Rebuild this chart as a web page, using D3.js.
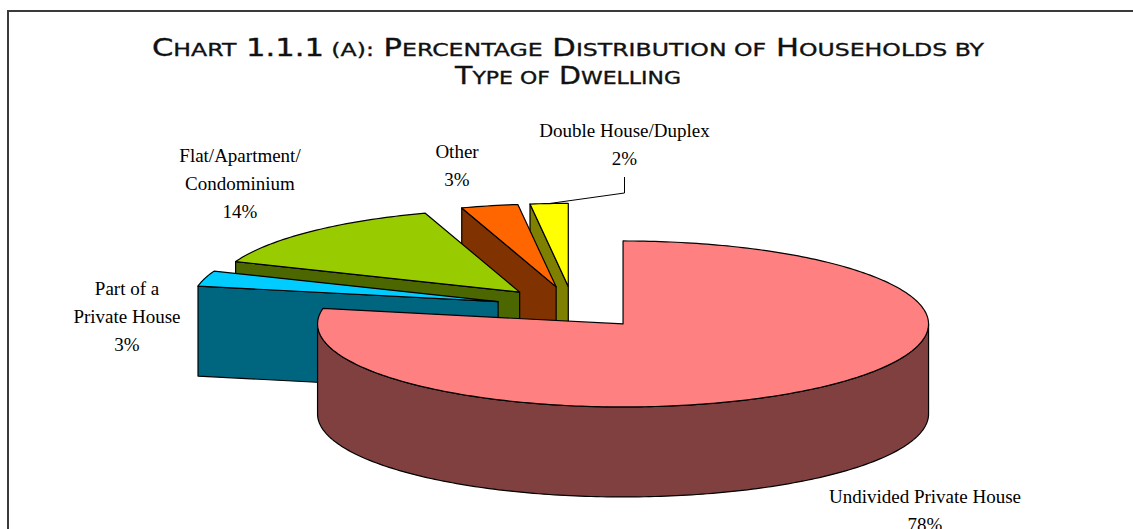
<!DOCTYPE html>
<html>
<head>
<meta charset="utf-8">
<script src="https://cdn.jsdelivr.net/npm/d3@7"></script>
<style>
  body { margin: 0; background: #fff; }
  svg { display: block; }
</style>
</head>
<body>
<div id="chart"></div>
<script>
// data (slices go clockwise from 12 o'clock)
var categories = ["Undivided Private House", "Part of a Private House", "Flat/Apartment/Condominium", "Other", "Double House/Duplex"];
var values = [78, 3, 14, 3, 2];
var labelLines = [["Undivided Private House"], ["Part of a", "Private House"], ["Flat/Apartment/", "Condominium"], ["Other"], ["Double House/Duplex"]];
var titleLines = ["Chart 1.1.1 (a): Percentage Distribution of Households by", "Type of Dwelling"];

var topColors = ["#FF8080", "#00CCFF", "#99CC00", "#FF6600", "#FFFF00"];
var sideColors = ["#804040", "#006680", "#4C6600", "#803300", "#808000"];

var width = 1133, height = 529;

var svg = d3.select("#chart").append("svg")
    .attr("width", width)
    .attr("height", height);

// frame (right and bottom edges run off the page)
svg.append("rect")
    .attr("x", 8).attr("y", 11)
    .attr("width", width + 20).attr("height", height + 20)
    .attr("fill", "none")
    .attr("stroke", "#3a3a3a")
    .attr("stroke-width", 2);

// title, faked small caps: first letter of a word big, the rest smaller capitals
var title = svg.selectAll("text.title")
    .data(titleLines)
    .enter().append("text")
    .attr("class", "title")
    .attr("x", 568)
    .attr("y", function (d, i) { return 56 + i * 28; })
    .attr("text-anchor", "middle")
    .attr("textLength", function (d, i) { return i == 0 ? 832 : 226; })
    .attr("lengthAdjust", "spacingAndGlyphs")
    .style("font-family", "'DejaVu Sans', sans-serif")
    .style("fill", "#111")
    .style("stroke", "#111")
    .style("stroke-width", 0.35);

title.each(function (d) {
    var el = d3.select(this);
    var parts = [];
    d.split(" ").forEach(function (w, wi) {
        var head = w.charAt(0), rest = w.slice(1);
        var big = head.toUpperCase() == head && /[A-Z0-9(]/.test(head);
        if (head == "(") { big = false; }
        parts.push({t: (wi > 0 ? " " : "") + head.toUpperCase(), big: big});
        if (rest) parts.push({t: rest.toUpperCase(), big: /^[0-9.]+$/.test(rest)});
    });
    el.selectAll("tspan")
        .data(parts)
        .enter().append("tspan")
        .style("font-size", function (p) { return p.big ? "24px" : "18.5px"; })
        .text(function (p) { return p.t; });
});

// pie geometry
var center = [573.2, 307.6],
    rx = 305.5,
    ry = 83,
    depth = 90,
    explode = 0.256;

var pie = d3.pie().sort(null).value(function (d) { return d; });
var arcs = pie(values);

function pt(c, a, r, dy) {
    return [c[0] + rx * r * Math.sin(a), c[1] - ry * r * Math.cos(a) + (dy || 0)];
}

function arcPts(c, a0, a1, dy) {
    var n = Math.max(2, Math.ceil(Math.abs(a1 - a0) / (Math.PI / 180)));
    return d3.range(n + 1).map(function (i) {
        return pt(c, a0 + (a1 - a0) * i / n, 1, dy);
    });
}

var line = d3.line();

arcs.forEach(function (d, i) {
    d.index = i;
    d.mid = (d.startAngle + d.endAngle) / 2;
    d.tip = pt(center, d.mid, explode);
});

// back to front
var order = arcs.slice().sort(function (a, b) {
    return -Math.cos(a.mid) - -Math.cos(b.mid);
});

var g = svg.append("g")
    .attr("stroke", "#000")
    .attr("stroke-width", 1.2)
    .attr("stroke-linejoin", "round");

order.forEach(function (d) {
    var s = d.startAngle, e = d.endAngle, t = d.tip;
    var tb = [t[0], t[1] + depth];

    // radial walls facing the viewer
    if (Math.sin(s) < -1e-6) {
        g.append("path")
            .attr("d", line([t, pt(t, s, 1), pt(t, s, 1, depth), tb]) + "Z")
            .attr("fill", sideColors[d.index]);
    }
    if (Math.sin(e) > 1e-6) {
        g.append("path")
            .attr("d", line([t, pt(t, e, 1), pt(t, e, 1, depth), tb]) + "Z")
            .attr("fill", sideColors[d.index]);
    }

    // front part of the outer wall
    var a0 = Math.max(s, Math.PI / 2), a1 = Math.min(e, 3 * Math.PI / 2);
    if (a1 > a0) {
        var pts = arcPts(t, a0, a1, 0).concat(arcPts(t, a1, a0, depth));
        g.append("path")
            .attr("d", line(pts) + "Z")
            .attr("fill", sideColors[d.index]);
    }

    // top face
    g.append("path")
        .attr("d", line([t].concat(arcPts(t, s, e, 0))) + "Z")
        .attr("fill", topColors[d.index]);
});

// data labels
var labelAnchor = [[925, 503], [127, 295], [240, 162], [457, 158], [624.5, 137]];
var lineGap = 28;

var labels = svg.selectAll("g.label")
    .data(arcs)
    .enter().append("g")
    .attr("class", "label")
    .attr("transform", function (d) {
        return "translate(" + labelAnchor[d.index][0] + "," + labelAnchor[d.index][1] + ")";
    });

labels.selectAll("text")
    .data(function (d) {
        return labelLines[d.index].concat([d.data + "%"]);
    })
    .enter().append("text")
    .attr("y", function (d, i) { return i * lineGap; })
    .attr("text-anchor", "middle")
    .style("font-family", "'Liberation Serif', 'Times New Roman', serif")
    .style("font-size", "19px")
    .style("fill", "#000")
    .text(function (d) { return d; });

// leader line for the small slice at the top
var last = arcs[arcs.length - 1];
var la = labelAnchor[last.index];
var leaderEnd = pt(last.tip, last.mid, 1);
svg.append("path")
    .attr("d", line([[la[0], la[1] + 40], [la[0], la[1] + 56], leaderEnd]))
    .attr("fill", "none")
    .attr("stroke", "#000")
    .attr("stroke-width", 1);
</script>
</body>
</html>
